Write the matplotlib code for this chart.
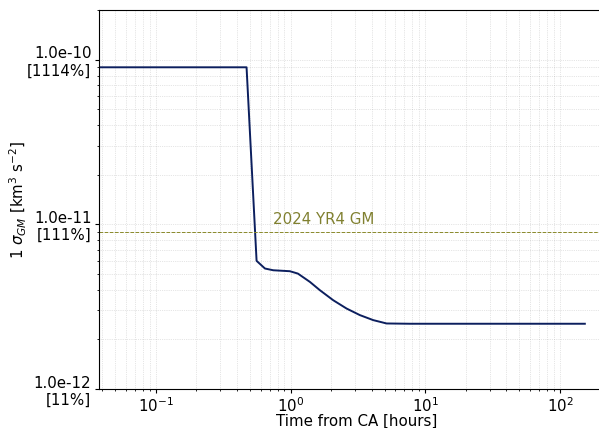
import matplotlib
matplotlib.use("Agg")
import matplotlib.pyplot as plt
import numpy as np

# 1-sigma GM uncertainty vs time from close approach
time_hours = [0.02, 0.1, 0.3, 0.471, 0.559, 0.645, 0.743, 0.988, 1.133, 1.391, 1.65, 2.072,
              2.604, 3.269, 4.105, 5.16, 7.69, 20.0, 60.0, 153.0]
sigma_gm = [8.98e-11, 8.98e-11, 8.98e-11, 8.98e-11, 6.0e-12, 5.39e-12, 5.26e-12, 5.19e-12, 5.02e-12,
            4.47e-12, 3.98e-12, 3.46e-12, 3.08e-12, 2.81e-12, 2.62e-12, 2.50e-12, 2.49e-12,
            2.49e-12, 2.49e-12, 2.49e-12]

yr4_gm = 8.977e-12
ytick_vals = [1e-12, 1e-11, 1e-10]

fs = 10.8
fig = plt.figure(figsize=(5.99, 4.28), dpi=100)
ax = fig.add_axes([0.1653, 0.0911, 0.859, 0.8855])

ax.plot(time_hours, sigma_gm, color="#0c1f5e", lw=1.4)
ax.axhline(yr4_gm, color="#8a8a2a", ls="--", lw=0.7)
ax.text(0.74, yr4_gm * 1.12, "2024 YR4 GM", color="#808030", fontsize=fs)

ax.set_xscale("log")
ax.set_yscale("log")
ax.set_xlim(0.0378, 250)
ax.set_ylim(1e-12, 2.0e-10)

ax.set_yticks(ytick_vals)
ax.set_yticklabels([f"{v:.1e}\n[{v / yr4_gm * 100:.0f}%]" for v in ytick_vals])
ax.tick_params(labelsize=fs, length=3, width=0.8, pad=2.5)
ax.tick_params(axis="x", pad=2)
ax.tick_params(which="minor", length=1.7, width=0.6)
ax.grid(which="both", ls=":", lw=0.5, color="gray", alpha=0.4)

ax.set_xlabel("Time from CA [hours]", fontsize=fs, labelpad=-0.5)
ax.set_ylabel(r"1 $\sigma_{GM}$ [km$^3$ s$^{-2}$]", fontsize=fs, labelpad=-1)

fig.savefig("out.png", dpi=100)
